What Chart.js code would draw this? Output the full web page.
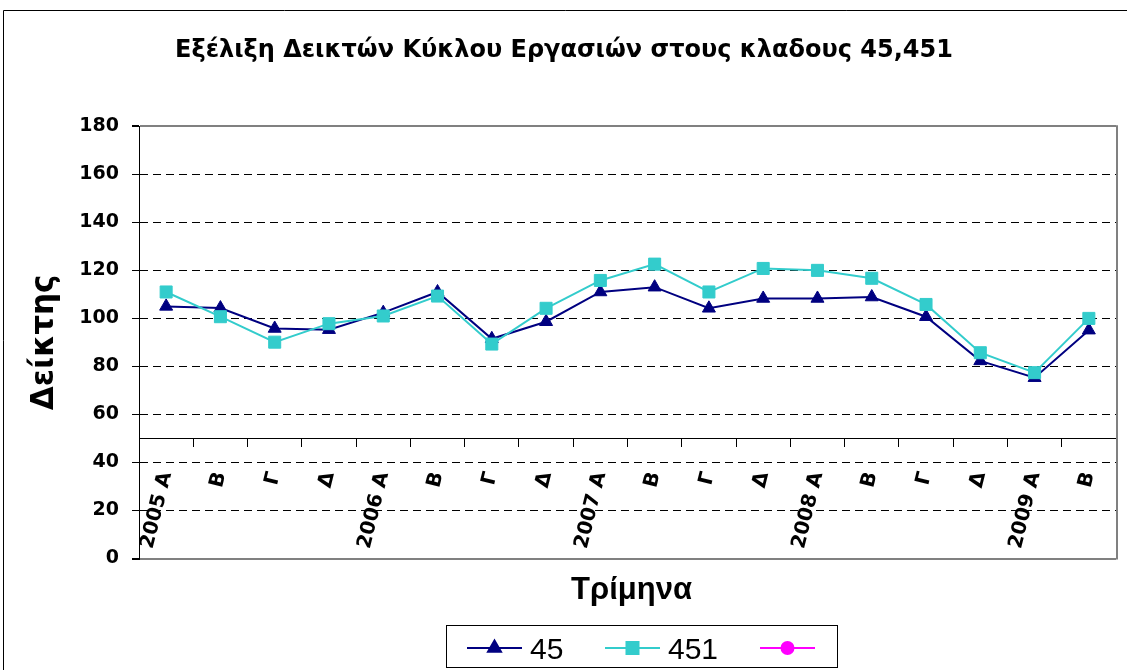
<!DOCTYPE html>
<html>
<head>
<meta charset="utf-8">
<script src="https://cdn.jsdelivr.net/npm/chart.js@4/dist/chart.umd.min.js"></script>
<style>
  html, body { margin: 0; padding: 0; background: #fff; }
  #wrap { position: relative; width: 1127px; height: 670px; }
  canvas { display: block; }
</style>
</head>
<body>
<div id="wrap"><canvas id="c" width="1127" height="670"></canvas></div>
<script>
const chartTitle = "Εξέλιξη Δεικτών Κύκλου Εργασιών στους κλαδους 45,451";
const yAxisTitle = "Δείκτης";
const xAxisTitle = "Τρίμηνα";
const categories = ["2005 A","B","Γ","Δ","2006 A","B","Γ","Δ","2007 A","B","Γ","Δ","2008 A","B","Γ","Δ","2009 A","B"];
const series45Label = "45";
const series45 = [105, 104.3, 95.8, 95.3, 102.4, 111, 91.5, 98.6, 111, 113, 104.2, 108.3, 108.3, 108.9, 100.7, 82.3, 75.3, 95.1];
const series451Label = "451";
const series451 = [111, 100.7, 90.1, 97.8, 101, 109.3, 89.3, 104.2, 115.8, 122.6, 111, 120.8, 120, 116.7, 105.8, 85.7, 77.4, 100];
const series3Label = "";
const series3 = [];
const yMin = 0, yMax = 180, yStep = 20;
const xAxisCrossValue = 50;

const decor = {
  id: 'decor',
  beforeDatasetsDraw(chart) {
    const {ctx, chartArea: a} = chart;
    ctx.save();
    ctx.strokeStyle = '#808080';
    ctx.lineWidth = 2;
    ctx.beginPath();
    ctx.moveTo(a.right + 1, a.top - 1);
    ctx.lineTo(a.right + 1, a.bottom + 1);
    ctx.stroke();
    ctx.restore();
  },
  afterDraw(chart) {
    const {ctx, chartArea: a} = chart;
    ctx.save();
    // outer frame
    ctx.strokeStyle = '#000';
    ctx.lineWidth = 1;
    ctx.beginPath();
    ctx.moveTo(3.5, 670);
    ctx.lineTo(3.5, 10.5);
    ctx.lineTo(1127, 10.5);
    ctx.stroke();
    // x axis title
    ctx.fillStyle = '#000';
    ctx.font = 'bold 31px "Liberation Sans", Arial, sans-serif';
    ctx.textAlign = 'center';
    ctx.textBaseline = 'alphabetic';
    ctx.fillText(xAxisTitle, (a.left + a.right) / 2 + 4, 599);
    // legend
    ctx.lineWidth = 1;
    ctx.strokeStyle = '#000';
    ctx.strokeRect(446.5, 625.5, 391, 42);
    const items = [
      {x: 467, text: 467 + 63},
      {x: 605, text: 605 + 63},
      {x: 760, text: 760 + 63}
    ];
    const yc = 648;
    chart.data.datasets.forEach((ds, i) => {
      const it = items[i];
      ctx.strokeStyle = ds.borderColor;
      ctx.lineWidth = 2;
      ctx.beginPath();
      ctx.moveTo(it.x, yc);
      ctx.lineTo(it.x + 55, yc);
      ctx.stroke();
      ctx.fillStyle = ds.pointBackgroundColor;
      ctx.strokeStyle = ds.pointBorderColor;
      Chart.helpers.drawPoint(ctx, {pointStyle: ds.pointStyle, radius: ds.pointRadius, rotation: 0, borderWidth: 1}, it.x + 27.5, yc);
      ctx.fillStyle = '#000';
      ctx.font = '30px "Liberation Sans", Arial, sans-serif';
      ctx.textAlign = 'left';
      ctx.textBaseline = 'alphabetic';
      if (ds.label) ctx.fillText(ds.label, it.text, 659);
    });
    ctx.restore();
  }
};

const isEdge = (c) => c.tick && (c.tick.value === yMin || c.tick.value === yMax);

new Chart(document.getElementById('c'), {
  type: 'line',
  data: {
    labels: categories,
    datasets: [
      {
        label: series45Label, data: series45, order: 2,
        borderColor: '#000080', backgroundColor: '#000080',
        pointBackgroundColor: '#000080', pointBorderColor: '#000080',
        borderWidth: 2, pointStyle: 'triangle', pointRadius: 7.5, pointBorderWidth: 1,
        tension: 0, fill: false
      },
      {
        label: series451Label, data: series451, order: 1,
        borderColor: '#33CCCC', backgroundColor: '#33CCCC',
        pointBackgroundColor: '#33CCCC', pointBorderColor: '#33CCCC',
        borderWidth: 2, pointStyle: 'rect', pointRadius: 8.5, pointBorderWidth: 1,
        tension: 0, fill: false
      },
      {
        label: series3Label, data: series3, order: 3,
        borderColor: '#FF00FF', backgroundColor: '#FF00FF',
        pointBackgroundColor: '#FF00FF', pointBorderColor: '#FF00FF',
        borderWidth: 2, pointStyle: 'circle', pointRadius: 6, pointBorderWidth: 1,
        tension: 0, fill: false
      }
    ]
  },
  options: {
    responsive: false,
    animation: false,
    events: [],
    layout: { padding: { left: 12, right: 11, top: 0, bottom: 111.5 } },
    plugins: {
      legend: { display: false },
      tooltip: { enabled: false },
      title: {
        display: true,
        text: chartTitle,
        color: '#000',
        font: { family: '"DejaVu Sans", sans-serif', size: 24, weight: 'bold', lineHeight: 1.2 },
        padding: { top: 36, bottom: 61.5 }
      }
    },
    scales: {
      x: {
        type: 'category',
        position: { y: xAxisCrossValue },
        offset: true,
        afterFit: (s) => { s.height = 0; s.paddingLeft = 0; s.paddingRight = 0; },
        grid: { display: true, drawOnChartArea: false, drawTicks: true, tickLength: 8, color: '#000', tickColor: '#000', offset: true },
        border: { display: true, color: '#000', width: 1 },
        ticks: {
          autoSkip: false, minRotation: 76, maxRotation: 76, padding: 23,
          color: '#000',
          font: { family: '"DejaVu Sans", sans-serif', size: 20, weight: 'bold' }
        }
      },
      y: {
        type: 'linear',
        min: yMin, max: yMax,
        afterFit: (s) => { s.width = 127; },
        ticks: {
          stepSize: yStep, padding: 13, color: '#000',
          font: { family: '"DejaVu Sans", sans-serif', size: 19, weight: 'bold' }
        },
        grid: {
          color: (c) => isEdge(c) ? '#808080' : '#000',
          lineWidth: (c) => isEdge(c) ? 2 : 1,
          tickColor: '#000', tickLength: 7, drawTicks: true
        },
        border: { display: true, color: '#000', width: 1, dash: (c) => isEdge(c) ? [] : [8, 5] },
        title: {
          display: true, text: yAxisTitle, color: '#000',
          font: { family: '"DejaVu Sans", sans-serif', size: 31, weight: 'bold', lineHeight: 1.2 },
          padding: { top: 14, bottom: 0 }
        }
      }
    }
  },
  plugins: [decor]
});
</script>
</body>
</html>
